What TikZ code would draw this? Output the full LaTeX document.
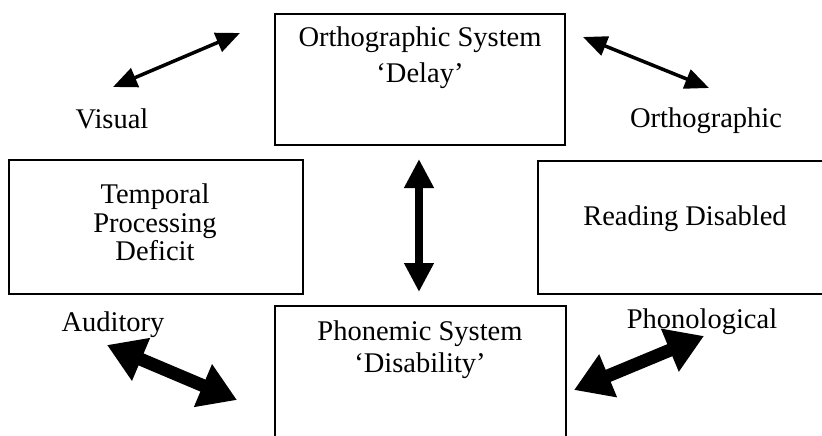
\documentclass[tikz,border=0pt]{standalone}
\usepackage{fontspec}
\setmainfont{Liberation Serif}
\usetikzlibrary{arrows.meta}
\begin{document}
\begin{tikzpicture}[x=1pt,y=-1pt,
  box/.style={draw, line width=1.6pt, inner sep=0pt, anchor=north west},
  txt/.style={font=\fontsize{28.5}{34}\selectfont, anchor=base, inner sep=0pt},
  thinarrow/.style={line width=3.5pt, {Triangle[length=24pt,width=20pt]}-{Triangle[length=24pt,width=20pt]}},
  midarrow/.style={line width=8pt, {Triangle[length=29pt,width=28pt]}-{Triangle[length=29pt,width=28pt]}},
  thickarrow/.style={line width=13pt, {Triangle[length=37pt,width=44pt]}-{Triangle[length=37pt,width=44pt]}}
]
\useasboundingbox (0,0) rectangle (822,436);
\clip (0,0) rectangle (822,436);

% boxes
\node[box, minimum width=290pt, minimum height=131pt] (ortho) at (274,13) {};
\node[box, minimum width=294pt, minimum height=134pt] (temporal) at (8,159) {};
\node[box, minimum width=297pt, minimum height=133pt] (reading) at (537,160) {};
\node[box, minimum width=291pt, minimum height=155pt] (phon) at (274,305) {};

% box texts
\node[txt] (t1) at (420,47) {Orthographic System};
\node[txt] (t2) at (420,82) {‘Delay’};
\node[txt] (t3) at (155,203) {Temporal};
\node[txt] (t4) at (155,232) {Processing};
\node[txt] (t5) at (155,260) {Deficit};
\node[txt] (t6) at (685,225) {Reading Disabled};
\node[txt] (t7) at (420,340) {Phonemic System};
\node[txt] (t8) at (420,372) {‘Disability’};

% side labels
\node[txt] (visual) at (112,128) {Visual};
\node[txt] (orthl) at (706,127) {Orthographic};
\node[txt] (audit) at (113,331) {Auditory};
\node[txt] (phonl) at (702,328) {Phonological};

% arrow end points
\coordinate (tlA) at (113,87);
\coordinate (tlB) at (240,33);
\coordinate (trA) at (583,37);
\coordinate (trB) at (709,88);
\coordinate (vA) at (419,159);
\coordinate (vB) at (419,292);
\coordinate (blA) at (107,345);
\coordinate (blB) at (237,400);
\coordinate (brA) at (574,390);
\coordinate (brB) at (704,336);

\draw[thinarrow] (tlA) -- (tlB);
\draw[thinarrow] (trA) -- (trB);
\draw[midarrow] (vA) -- (vB);
\draw[thickarrow] (blA) -- (blB);
\draw[thickarrow] (brA) -- (brB);
\end{tikzpicture}
\end{document}
